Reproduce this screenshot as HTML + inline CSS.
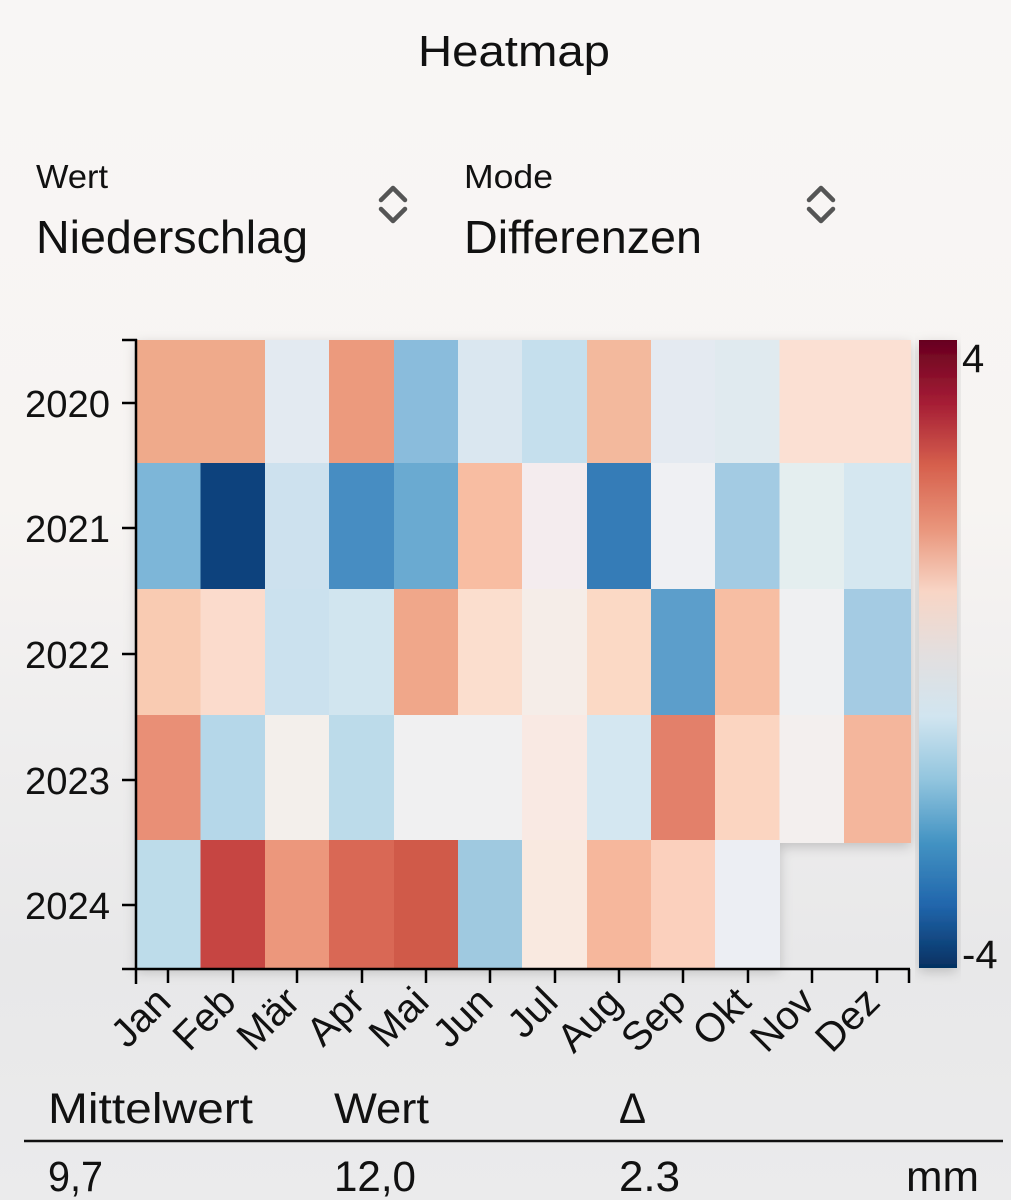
<!DOCTYPE html>
<html>
<head>
<meta charset="utf-8">
<style>
  html, body { margin: 0; padding: 0; }
  body { width: 1011px; height: 1200px; overflow: hidden; }
  svg { display: block; }
  text { font-family: "Liberation Sans", "DejaVu Sans", sans-serif; fill: #111; }
</style>
</head>
<body>
<svg width="1011" height="1200" viewBox="0 0 1011 1200" xmlns="http://www.w3.org/2000/svg">
  <defs>
    <linearGradient id="bg" x1="0" y1="0" x2="0" y2="1">
      <stop offset="0" stop-color="#f8f6f5"/>
      <stop offset="0.42" stop-color="#f7f4f2"/>
      <stop offset="0.6" stop-color="#efeeee"/>
      <stop offset="0.8" stop-color="#e8e8e9"/>
      <stop offset="1" stop-color="#ebebec"/>
    </linearGradient>
    <linearGradient id="cbar" x1="0" y1="0" x2="0" y2="1">
      <stop offset="0" stop-color="#67001f"/>
      <stop offset="0.1" stop-color="#a51d35"/>
      <stop offset="0.2" stop-color="#d6604d"/>
      <stop offset="0.3" stop-color="#e9957b"/>
      <stop offset="0.4" stop-color="#f8d5c5"/>
      <stop offset="0.5" stop-color="#e3dfdf"/>
      <stop offset="0.6" stop-color="#d1e5f0"/>
      <stop offset="0.7" stop-color="#92c5de"/>
      <stop offset="0.8" stop-color="#4393c3"/>
      <stop offset="0.9" stop-color="#2166ac"/>
      <stop offset="1" stop-color="#053061"/>
    </linearGradient>
    <filter id="sh" x="-10%" y="-10%" width="120%" height="120%">
      <feDropShadow dx="0" dy="4" stdDeviation="6" flood-color="#000" flood-opacity="0.18"/>
    </filter>
  </defs>

  <rect x="0" y="0" width="1011" height="1200" fill="url(#bg)"/>

  <!-- Header -->
  <text x="418" y="66" font-size="44" textLength="192" lengthAdjust="spacingAndGlyphs">Heatmap</text>

  <text x="36" y="188" font-size="33" textLength="72" lengthAdjust="spacingAndGlyphs">Wert</text>
  <text x="36" y="253" font-size="46" textLength="272" lengthAdjust="spacingAndGlyphs">Niederschlag</text>
  <text x="464" y="188" font-size="33" textLength="89" lengthAdjust="spacingAndGlyphs">Mode</text>
  <text x="464" y="253" font-size="46" textLength="238" lengthAdjust="spacingAndGlyphs">Differenzen</text>

  <g fill="none" stroke="#555" stroke-width="4.5" stroke-linecap="round" stroke-linejoin="round">
    <polyline points="381,200 393,188 405,200"/>
    <polyline points="381,209 393,221 405,209"/>
    <polyline points="809,200 821,188 833,200"/>
    <polyline points="809,209 821,221 833,209"/>
  </g>

  <!-- Heatmap cells -->
  <g filter="url(#sh)">
    <!-- 2020 -->
    <rect x="136" y="340" width="65" height="123" fill="#efaa8b"/>
    <rect x="200.5" y="340" width="65" height="123" fill="#efaa8b"/>
    <rect x="265" y="340" width="64.5" height="123" fill="#e3eaf1"/>
    <rect x="329" y="340" width="65.5" height="123" fill="#ec9a7d"/>
    <rect x="394" y="340" width="64.5" height="123" fill="#8abcdc"/>
    <rect x="458" y="340" width="64.5" height="123" fill="#dae7f0"/>
    <rect x="522" y="340" width="65.5" height="123" fill="#c5dfed"/>
    <rect x="587" y="340" width="64.5" height="123" fill="#f3b99d"/>
    <rect x="651" y="340" width="64.5" height="123" fill="#e4eaf1"/>
    <rect x="715" y="340" width="65" height="123" fill="#e0eaef"/>
    <rect x="779.5" y="340" width="65" height="123" fill="#fbe0d3"/>
    <rect x="844" y="340" width="67" height="123" fill="#fbe0d3"/>
    <!-- 2021 -->
    <rect x="136" y="463" width="65" height="126.5" fill="#7db6d8"/>
    <rect x="200.5" y="463" width="65" height="126.5" fill="#11437d"/>
    <rect x="265" y="463" width="64.5" height="126.5" fill="#cde1ee"/>
    <rect x="329" y="463" width="65.5" height="126.5" fill="#468dc2"/>
    <rect x="394" y="463" width="64.5" height="126.5" fill="#6aaad1"/>
    <rect x="458" y="463" width="64.5" height="126.5" fill="#f8bda2"/>
    <rect x="522" y="463" width="65.5" height="126.5" fill="#f4ecee"/>
    <rect x="587" y="463" width="64.5" height="126.5" fill="#357bb7"/>
    <rect x="651" y="463" width="64.5" height="126.5" fill="#eff0f3"/>
    <rect x="715" y="463" width="65" height="126.5" fill="#a3cbe3"/>
    <rect x="779.5" y="463" width="65" height="126.5" fill="#e4eeef"/>
    <rect x="844" y="463" width="67" height="126.5" fill="#d5e7f0"/>
    <!-- 2022 -->
    <rect x="136" y="589" width="65" height="126.5" fill="#f9cbb2"/>
    <rect x="200.5" y="589" width="65" height="126.5" fill="#fbdbcc"/>
    <rect x="265" y="589" width="64.5" height="126.5" fill="#cbe1ee"/>
    <rect x="329" y="589" width="65.5" height="126.5" fill="#d1e5ef"/>
    <rect x="394" y="589" width="64.5" height="126.5" fill="#f0a78a"/>
    <rect x="458" y="589" width="64.5" height="126.5" fill="#fbdece"/>
    <rect x="522" y="589" width="65.5" height="126.5" fill="#f5ede8"/>
    <rect x="587" y="589" width="64.5" height="126.5" fill="#fbd9c5"/>
    <rect x="651" y="589" width="64.5" height="126.5" fill="#5c9ecb"/>
    <rect x="715" y="589" width="65" height="126.5" fill="#f7bea3"/>
    <rect x="779.5" y="589" width="65" height="126.5" fill="#eff0f2"/>
    <rect x="844" y="589" width="67" height="126.5" fill="#a4cbe3"/>
    <!-- 2023 -->
    <rect x="136" y="715" width="65" height="125.5" fill="#e98f76"/>
    <rect x="200.5" y="715" width="65" height="125.5" fill="#b5d7e9"/>
    <rect x="265" y="715" width="64.5" height="125.5" fill="#f3efeb"/>
    <rect x="329" y="715" width="65.5" height="125.5" fill="#bcdbea"/>
    <rect x="394" y="715" width="64.5" height="125.5" fill="#f0f0f1"/>
    <rect x="458" y="715" width="64.5" height="125.5" fill="#f0f0f1"/>
    <rect x="522" y="715" width="65.5" height="125.5" fill="#f9e9e3"/>
    <rect x="587" y="715" width="64.5" height="125.5" fill="#d4e7f1"/>
    <rect x="651" y="715" width="64.5" height="125.5" fill="#e3806a"/>
    <rect x="715" y="715" width="65" height="125.5" fill="#fbd5c1"/>
    <rect x="779.5" y="715" width="65" height="128" fill="#f3efee"/>
    <rect x="844" y="715" width="67" height="128" fill="#f4b69c"/>
    <!-- 2024 -->
    <rect x="136" y="840" width="65" height="128" fill="#bddcea"/>
    <rect x="200.5" y="840" width="65" height="128" fill="#c64442"/>
    <rect x="265" y="840" width="64.5" height="128" fill="#ec977b"/>
    <rect x="329" y="840" width="65.5" height="128" fill="#d96754"/>
    <rect x="394" y="840" width="64.5" height="128" fill="#d05a4a"/>
    <rect x="458" y="840" width="64.5" height="128" fill="#9fc9e0"/>
    <rect x="522" y="840" width="65.5" height="128" fill="#f9e9e0"/>
    <rect x="587" y="840" width="64.5" height="128" fill="#f6b79c"/>
    <rect x="651" y="840" width="64.5" height="128" fill="#fbd0bd"/>
    <rect x="715" y="840" width="65" height="128" fill="#eceef3"/>
  </g>

  <!-- Colorbar -->
  <rect x="919" y="340" width="38" height="628" fill="url(#cbar)" filter="url(#sh)"/>
  <text x="962" y="372" font-size="40">4</text>
  <text x="962" y="968" font-size="40">-4</text>

  <!-- Axes -->
  <g stroke="#000" stroke-width="2.5" fill="none" stroke-linecap="butt">
    <line x1="136" y1="339" x2="136" y2="970"/>
    <line x1="122" y1="969" x2="910" y2="969"/>
    <line x1="122" y1="340" x2="137" y2="340"/>
    <line x1="122" y1="403" x2="136" y2="403"/>
    <line x1="122" y1="528" x2="136" y2="528"/>
    <line x1="122" y1="654" x2="136" y2="654"/>
    <line x1="122" y1="780" x2="136" y2="780"/>
    <line x1="122" y1="905" x2="136" y2="905"/>
    <line x1="136" y1="969" x2="136" y2="984"/>
    <line x1="168" y1="969" x2="168" y2="983"/>
    <line x1="233" y1="969" x2="233" y2="983"/>
    <line x1="297" y1="969" x2="297" y2="983"/>
    <line x1="362" y1="969" x2="362" y2="983"/>
    <line x1="426" y1="969" x2="426" y2="983"/>
    <line x1="490" y1="969" x2="490" y2="983"/>
    <line x1="555" y1="969" x2="555" y2="983"/>
    <line x1="619" y1="969" x2="619" y2="983"/>
    <line x1="683" y1="969" x2="683" y2="983"/>
    <line x1="748" y1="969" x2="748" y2="983"/>
    <line x1="812" y1="969" x2="812" y2="983"/>
    <line x1="877" y1="969" x2="877" y2="983"/>
    <line x1="909" y1="969" x2="909" y2="983"/>
  </g>

  <!-- Y labels -->
  <g font-size="38" text-anchor="end">
    <text x="110" y="417" textLength="85" lengthAdjust="spacingAndGlyphs">2020</text>
    <text x="110" y="542" textLength="85" lengthAdjust="spacingAndGlyphs">2021</text>
    <text x="110" y="668" textLength="85" lengthAdjust="spacingAndGlyphs">2022</text>
    <text x="110" y="794" textLength="85" lengthAdjust="spacingAndGlyphs">2023</text>
    <text x="110" y="919" textLength="85" lengthAdjust="spacingAndGlyphs">2024</text>
  </g>

  <!-- X labels -->
  <g font-size="40" text-anchor="end">
    <text transform="translate(173,1004) rotate(-45)">Jan</text>
    <text transform="translate(238,1004) rotate(-45)">Feb</text>
    <text transform="translate(302,1004) rotate(-45)">Mär</text>
    <text transform="translate(367,1004) rotate(-45)">Apr</text>
    <text transform="translate(431,1004) rotate(-45)">Mai</text>
    <text transform="translate(495,1004) rotate(-45)">Jun</text>
    <text transform="translate(560,1004) rotate(-45)">Jul</text>
    <text transform="translate(624,1004) rotate(-45)">Aug</text>
    <text transform="translate(688,1004) rotate(-45)">Sep</text>
    <text transform="translate(753,1004) rotate(-45)">Okt</text>
    <text transform="translate(817,1004) rotate(-45)">Nov</text>
    <text transform="translate(882,1004) rotate(-45)">Dez</text>
  </g>

  <!-- Bottom table -->
  <g font-size="43">
    <text x="48" y="1123" textLength="205" lengthAdjust="spacingAndGlyphs">Mittelwert</text>
    <text x="334" y="1123" textLength="95" lengthAdjust="spacingAndGlyphs">Wert</text>
    <text x="619" y="1123" textLength="27" lengthAdjust="spacingAndGlyphs">Δ</text>
    <text x="48" y="1191" textLength="55" lengthAdjust="spacingAndGlyphs">9,7</text>
    <text x="334" y="1191" textLength="82" lengthAdjust="spacingAndGlyphs">12,0</text>
    <text x="619" y="1191" textLength="61" lengthAdjust="spacingAndGlyphs">2.3</text>
    <text x="906" y="1191" textLength="73" lengthAdjust="spacingAndGlyphs">mm</text>
  </g>
  <line x1="24" y1="1141" x2="1003" y2="1141" stroke="#111" stroke-width="2.5"/>
</svg>
</body>
</html>
